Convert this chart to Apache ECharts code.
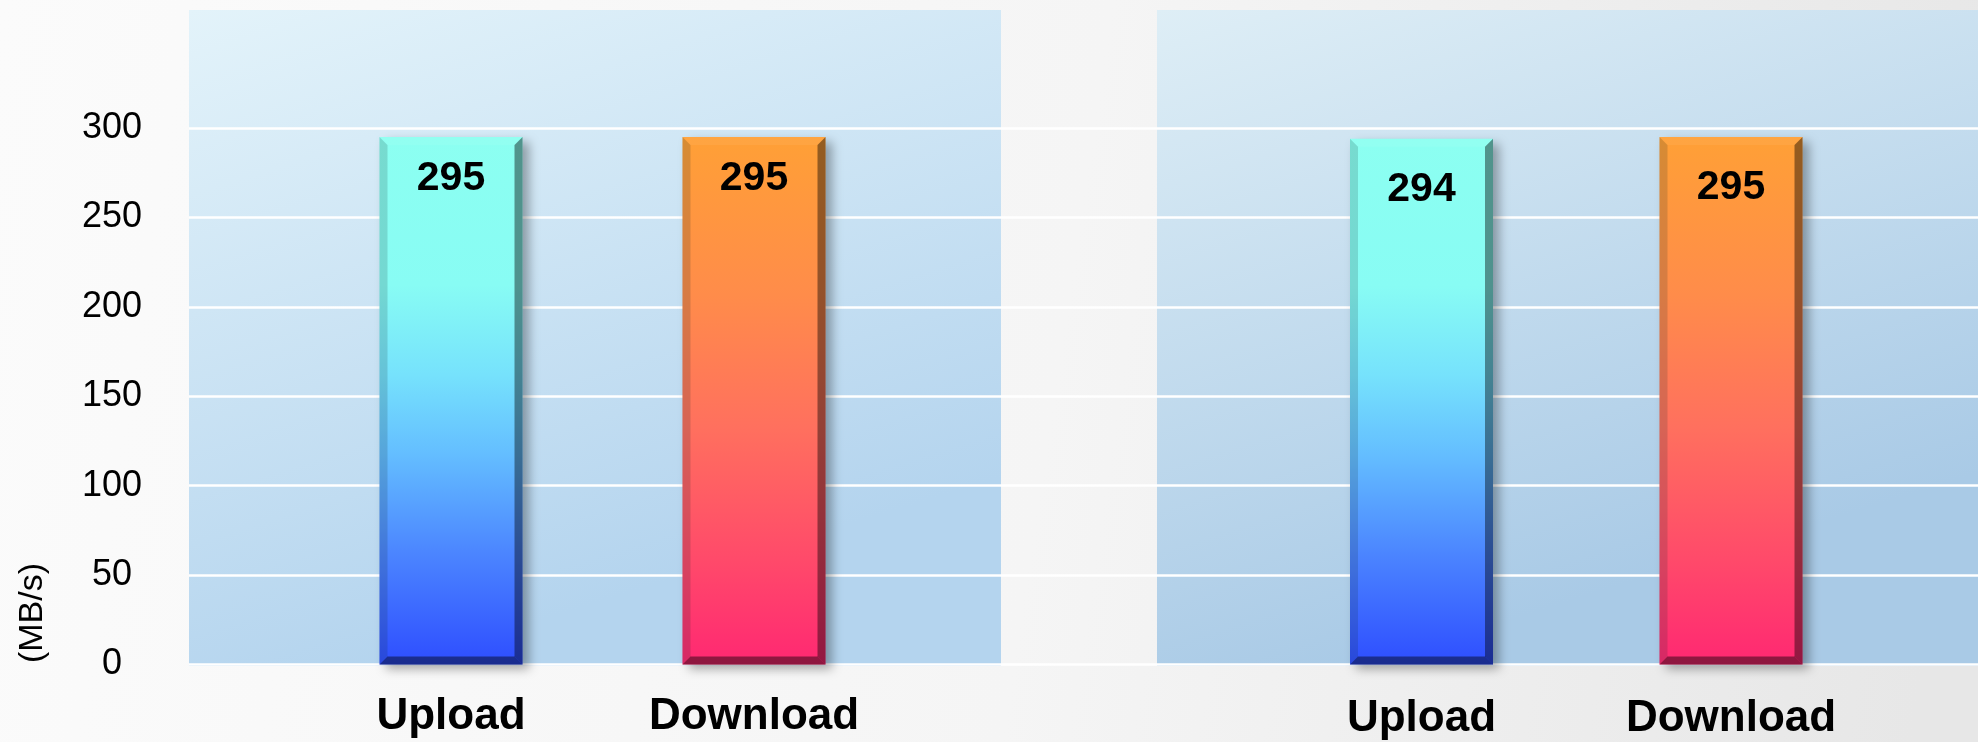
<!DOCTYPE html>
<html>
<head>
<meta charset="utf-8">
<script src="https://cdn.jsdelivr.net/npm/echarts@6/dist/echarts.min.js"></script>
<style>
html,body{margin:0;padding:0;width:1978px;height:742px;overflow:hidden;}
#chart{width:1978px;height:742px;}
</style>
</head>
<body>
<div id="chart"></div>
<script>
// ---- data ----
const categories = ['Upload', 'Download'];
const leftValues = [295, 295];
const rightValues = [294, 295];
const yMin = 0;
const yMax = 300;
const yInterval = 50;
const yAxisName = '(MB/s)';

// ---- styles ----
const FONT = '"Liberation Sans", Arial, Helvetica, sans-serif';
const BAR_W = 143;
const BEVEL = 8;
const barStops = [
  [ // Upload
    {offset: 0, color: '#8cfff1'},
    {offset: 0.28, color: '#88fcf4'},
    {offset: 0.45, color: '#76e2fc'},
    {offset: 0.6, color: '#64beff'},
    {offset: 0.8, color: '#4a82ff'},
    {offset: 1, color: '#2e4eff'}
  ],
  [ // Download
    {offset: 0, color: '#ffa036'},
    {offset: 0.3, color: '#ff8c4a'},
    {offset: 0.55, color: '#ff705e'},
    {offset: 0.8, color: '#ff4a6a'},
    {offset: 1, color: '#ff2872'}
  ]
];

function makeRender(labelOffset) {
  return function (params, api) {
    const idx = api.value(0);
    const val = api.value(1);
    const top = api.coord([idx, val]);
    const base = api.coord([idx, 0]);
    const x0 = top[0] - BAR_W / 2, x1 = x0 + BAR_W;
    const yT = top[1], yB = base[1];
    const b = BEVEL;
    return {
      type: 'group',
      children: [
        {type: 'rect', shape: {x: x0, y: yT, width: BAR_W, height: yB - yT},
         style: {fill: new echarts.graphic.LinearGradient(0, 0, 0, 1, barStops[idx]),
                 shadowBlur: 10, shadowOffsetX: 6, shadowOffsetY: 5, shadowColor: 'rgba(0,0,0,0.33)'}},
        {type: 'polygon', shape: {points: [[x0, yT], [x0 + b, yT + b], [x0 + b, yB - b], [x0, yB]]},
         style: {fill: 'rgba(20,40,40,0.17)'}},
        {type: 'polygon', shape: {points: [[x1, yT], [x1 - b, yT + b], [x1 - b, yB - b], [x1, yB]]},
         style: {fill: 'rgba(0,0,0,0.42)'}},
        {type: 'polygon', shape: {points: [[x0, yB], [x0 + b, yB - b], [x1 - b, yB - b], [x1, yB]]},
         style: {fill: 'rgba(0,0,0,0.44)'}},
        {type: 'polygon', shape: {points: [[x0, yT], [x1, yT], [x1 - b, yT + b], [x0 + b, yT + b]]},
         style: {fill: 'rgba(255,255,255,0.06)'}},
        {type: 'text', style: {text: String(val), x: top[0], y: yT + labelOffset,
          align: 'center', verticalAlign: 'middle', fill: '#000',
          fontSize: 41, fontWeight: 'bold', fontFamily: FONT}}
      ]
    };
  };
}

const chart = echarts.init(document.getElementById('chart'), null, {renderer: 'canvas'});

const panelGrad = (c0, c1) => ({
  type: 'linear', x: 0, y: 0, x2: 0.25, y2: 1,
  colorStops: [{offset: 0, color: c0}, {offset: 1, color: c1}]
});

const option = {
  animation: false,
  backgroundColor: {
    type: 'linear', x: 0, y: 0, x2: 1, y2: 0.4,
    colorStops: [{offset: 0, color: '#fbfbfb'}, {offset: 0.55, color: '#f5f5f5'}, {offset: 1, color: '#e7e7e7'}]
  },
  grid: [
    // 0: left panel background
    {left: 189, right: 977, top: 10, bottom: 76, show: true, borderWidth: 0, z: -1,
     backgroundColor: panelGrad('#e3f3fa', '#b4d4ee')},
    // 1: right panel background
    {left: 1157, right: 0, top: 10, bottom: 76, show: true, borderWidth: 0, z: -1,
     backgroundColor: panelGrad('#deeef6', '#a9cae6')},
    // 2: value axis / gridlines across whole width
    {left: 189, right: 0, top: 128, bottom: 77.6},
    // 3: left bars
    {left: 299.5, right: 1072.5, top: 128, bottom: 77.6},
    // 4: right bars
    {left: 1266.75, right: 92.25, top: 128, bottom: 77.6}
  ],
  xAxis: [
    {gridIndex: 0, type: 'value', show: false},
    {gridIndex: 1, type: 'value', show: false},
    {gridIndex: 2, type: 'value', show: false},
    {gridIndex: 3, type: 'category', data: categories,
     axisLine: {show: false}, axisTick: {show: false}, splitLine: {show: false},
     axisLabel: {margin: 30, color: '#000', fontSize: 44, fontWeight: 'bold', fontFamily: FONT}},
    {gridIndex: 4, type: 'category', data: categories,
     axisLine: {show: false}, axisTick: {show: false}, splitLine: {show: false},
     axisLabel: {margin: 32, color: '#000', fontSize: 44, fontWeight: 'bold', fontFamily: FONT}}
  ],
  yAxis: [
    {gridIndex: 0, type: 'value', show: false},
    {gridIndex: 1, type: 'value', show: false},
    {gridIndex: 2, type: 'value', min: yMin, max: yMax, interval: yInterval, z: 1,
     axisLine: {show: false}, axisTick: {show: false},
     splitLine: {show: true, lineStyle: {color: '#ffffff', width: 2.5}},
     axisLabel: {margin: 77, align: 'center', color: '#000', fontSize: 36, fontFamily: FONT}},
    {gridIndex: 3, type: 'value', min: yMin, max: yMax, show: false},
    {gridIndex: 4, type: 'value', min: yMin, max: yMax, show: false}
  ],
  graphic: [
    {type: 'text', x: 33, y: 613, rotation: Math.PI / 2,
     style: {text: yAxisName, align: 'center', verticalAlign: 'middle', fill: '#000',
             fontSize: 34, fontFamily: FONT}}
  ],
  series: [
    {type: 'custom', xAxisIndex: 3, yAxisIndex: 3, clip: false, z: 3,
     renderItem: makeRender(42),
     encode: {x: 0, y: 1},
     data: categories.map((c, i) => [i, leftValues[i]])},
    {type: 'custom', xAxisIndex: 4, yAxisIndex: 4, clip: false, z: 3,
     renderItem: makeRender(51),
     encode: {x: 0, y: 1},
     data: categories.map((c, i) => [i, rightValues[i]])}
  ]
};
chart.setOption(option);
</script>
</body>
</html>
